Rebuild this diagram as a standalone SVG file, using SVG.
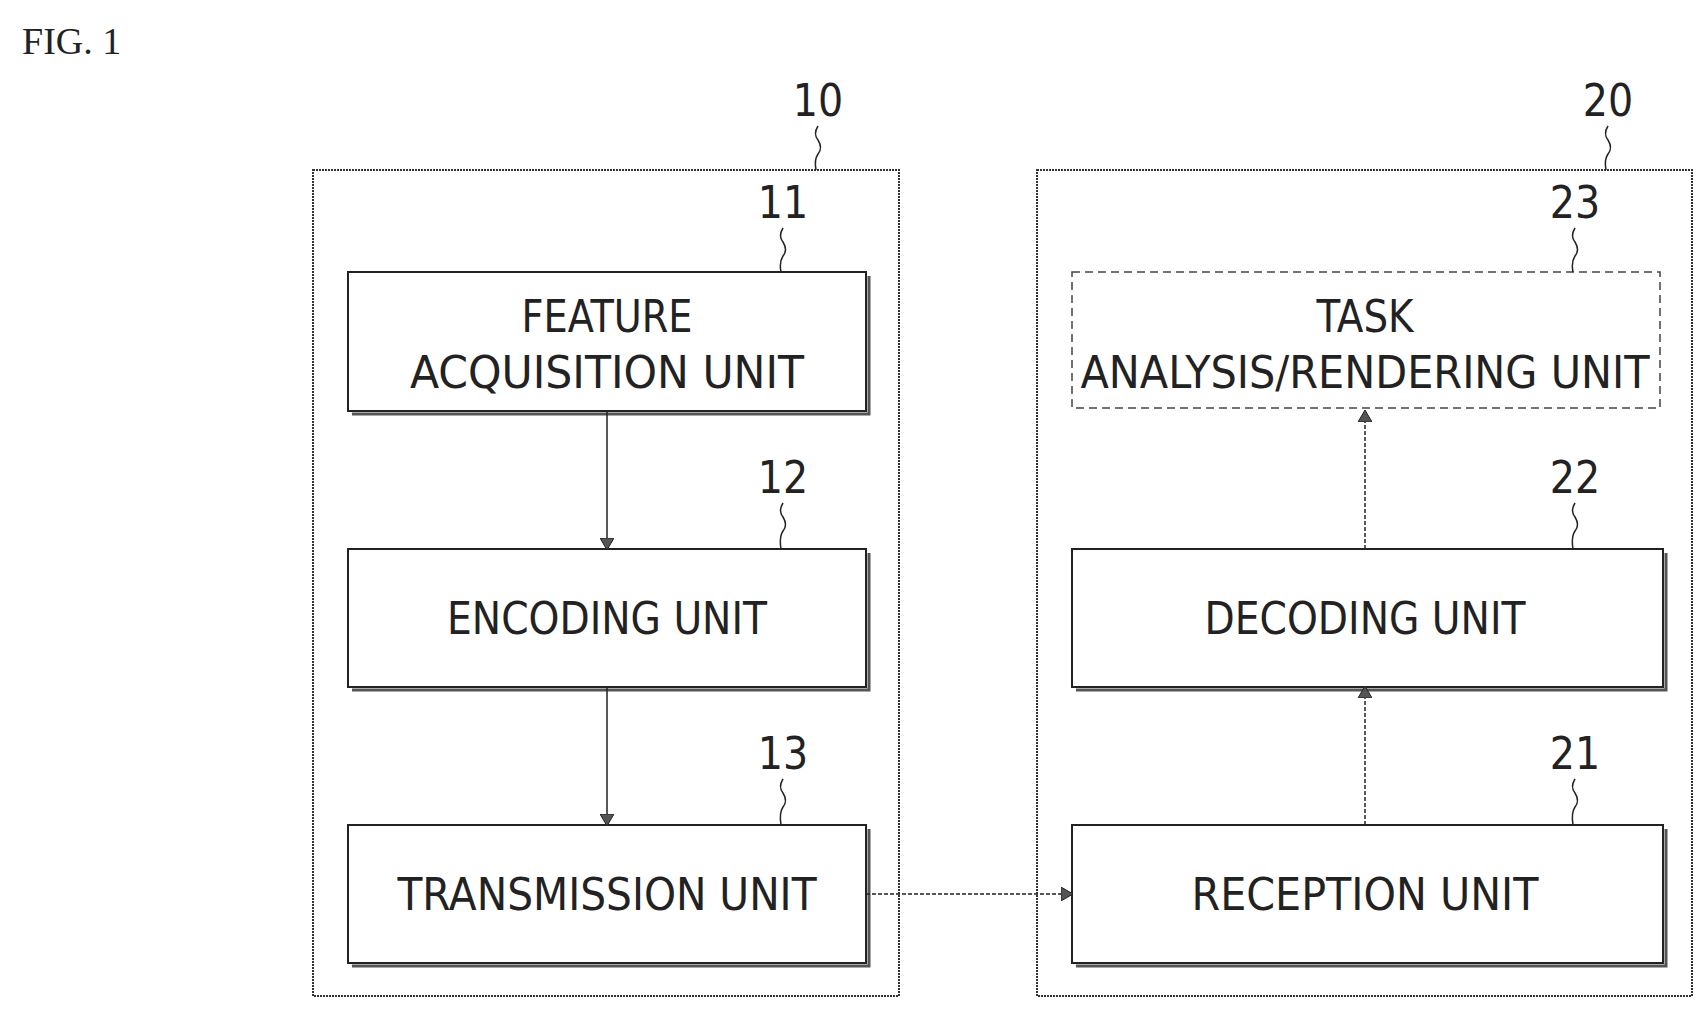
<svg xmlns="http://www.w3.org/2000/svg" width="1707" height="1012" viewBox="0 0 1707 1012">
<defs>
<style>
.o{fill:none;stroke:#333;stroke-width:2;stroke-dasharray:2 1}
.b{fill:#fff;stroke:#222;stroke-width:2}
.s{fill:none;stroke:#555;stroke-width:3}
.t{font-family:"Liberation Sans Narrow","DejaVu Sans Condensed",sans-serif;font-size:44px;fill:#222;text-anchor:middle}
.n{font-family:"Liberation Sans Narrow","DejaVu Sans Condensed",sans-serif;font-size:44px;fill:#222;text-anchor:middle}
.c{fill:none;stroke:#222;stroke-width:1.5}
.a{fill:none;stroke:#222;stroke-width:1.5}
</style>
<marker id="ah" markerWidth="12" markerHeight="14" refX="11" refY="7" orient="auto" markerUnits="userSpaceOnUse"><path d="M0,0 L12,7 L0,14 Z" fill="#555" stroke="#222"/></marker>
</defs>
<rect width="1707" height="1012" fill="#fff"/>
<text x="22" y="54" font-family="Liberation Serif,serif" font-size="38" fill="#222">FIG. 1</text>
<g id="n10"><rect class="o" x="313" y="170" width="586" height="826"/><text class="n" x="818" y="116">10</text><path class="c" d="M818,126 q-5,8 0,14 q5,8 0,14 q-4,6 -2,16"/></g>
<g id="n20"><rect class="o" x="1037" y="170" width="655" height="826"/><text class="n" x="1608" y="116">20</text><path class="c" d="M1608,126 q-5,8 0,14 q5,8 0,14 q-4,6 -2,16"/></g>
<g id="n11"><path class="s" d="M352,414 H869 V276"/><rect class="b" x="348" y="272" width="518" height="139"/><text class="t" x="607" y="332" textLength="171" lengthAdjust="spacingAndGlyphs">FEATURE</text><text class="t" x="607" y="388" textLength="394" lengthAdjust="spacingAndGlyphs">ACQUISITION UNIT</text><text class="n" x="783" y="218">11</text><path class="c" d="M783,228 q-5,8 0,14 q5,8 0,14 q-4,6 -2,16"/></g>
<g id="n12"><path class="s" d="M352,690 H869 V553"/><rect class="b" x="348" y="549" width="518" height="138"/><text class="t" x="607" y="634" textLength="320" lengthAdjust="spacingAndGlyphs">ENCODING UNIT</text><text class="n" x="783" y="493">12</text><path class="c" d="M783,503 q-5,8 0,14 q5,8 0,14 q-4,6 -2,18"/></g>
<g id="n13"><path class="s" d="M352,966 H869 V829"/><rect class="b" x="348" y="825" width="518" height="138"/><text class="t" x="607" y="910" textLength="419" lengthAdjust="spacingAndGlyphs">TRANSMISSION UNIT</text><text class="n" x="783" y="769">13</text><path class="c" d="M783,779 q-5,8 0,14 q5,8 0,14 q-4,6 -2,18"/></g>
<g id="n23"><rect x="1072" y="272" width="588" height="136" fill="#fff" stroke="#444" stroke-width="1.5" stroke-dasharray="8 5"/><text class="t" x="1365" y="332" textLength="97" lengthAdjust="spacingAndGlyphs">TASK</text><text class="t" x="1365" y="388" textLength="569" lengthAdjust="spacingAndGlyphs">ANALYSIS/RENDERING UNIT</text><text class="n" x="1575" y="218">23</text><path class="c" d="M1575,228 q-5,8 0,14 q5,8 0,14 q-4,6 -2,16"/></g>
<g id="n22"><path class="s" d="M1076,690 H1666 V553"/><rect class="b" x="1072" y="549" width="591" height="138"/><text class="t" x="1365" y="634" textLength="321" lengthAdjust="spacingAndGlyphs">DECODING UNIT</text><text class="n" x="1575" y="493">22</text><path class="c" d="M1575,503 q-5,8 0,14 q5,8 0,14 q-4,6 -2,18"/></g>
<g id="n21"><path class="s" d="M1076,966 H1666 V829"/><rect class="b" x="1072" y="825" width="591" height="138"/><text class="t" x="1365" y="910" textLength="347" lengthAdjust="spacingAndGlyphs">RECEPTION UNIT</text><text class="n" x="1575" y="769">21</text><path class="c" d="M1575,779 q-5,8 0,14 q5,8 0,14 q-4,6 -2,18"/></g>
<g id="connectors">
<line class="a" x1="607" y1="411" x2="607" y2="549" marker-end="url(#ah)"/>
<line class="a" x1="607" y1="687" x2="607" y2="825" marker-end="url(#ah)"/>
<line class="a" x1="866" y1="894" x2="1072" y2="894" stroke-dasharray="4 2" marker-end="url(#ah)"/>
<line class="a" x1="1365" y1="825" x2="1365" y2="687" stroke-dasharray="4 2" marker-end="url(#ah)"/>
<line class="a" x1="1365" y1="549" x2="1365" y2="411" stroke-dasharray="4 2" marker-end="url(#ah)"/>
</g>
</svg>
